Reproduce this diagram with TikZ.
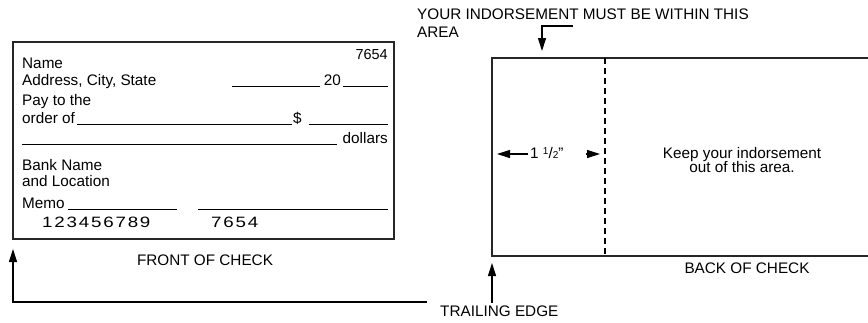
\documentclass[tikz,border=0pt]{standalone}
\usepackage{fontspec}
\setmainfont{Liberation Sans}
\usetikzlibrary{arrows.meta,positioning}

\begin{document}
\begin{tikzpicture}[x=1pt,y=-1pt,
  txt/.style={inner sep=0pt,font=\fontsize{15.3}{17}\selectfont},
  micr/.style={inner sep=0pt,font=\fontsize{15}{17}\selectfont\addfontfeature{FakeStretch=1.25,LetterSpace=12}},
  edge/.style={line width=1.7pt,draw=black!85},
  rule/.style={line width=0.9pt},
  pointer/.style={line width=1.1pt,-{Triangle[length=13pt,width=8pt]}}]
\useasboundingbox (0,0) rectangle (868,322);

% front of check
\draw[edge] (13,42) rectangle (394,239);
\node[txt,anchor=base east,font=\fontsize{14.5}{16}\selectfont] (chknum) at (388,59) {7654};
\node[txt,anchor=base west] (name) at (22,68) {Name};
\node[txt,anchor=base west] (addr) at (22,85) {Address, City, State};
\node[txt,anchor=base east] (year) at (341,85) {20};
\draw[rule] (232,86) -- (320,86);
\draw[rule] (343,86) -- (388,86);
\node[txt,anchor=base west] (pay) at (22,105) {Pay to the};
\node[txt,anchor=base west] (order) at (22,123) {order of};
\node[txt,anchor=base west] (dollar) at (293,123) {\$};
\draw[rule] (77,124) -- (292,124);
\draw[rule] (309,124) -- (388,124);
\node[txt,anchor=base east] (words) at (388,143) {dollars};
\draw[rule] (22,144) -- (337,144);
\node[txt,anchor=base west] (bank) at (22,170) {Bank Name};
\node[txt,anchor=base west] (loc) at (22,186) {and Location};
\node[txt,anchor=base west] (memo) at (22,208) {Memo};
\draw[rule] (68,209) -- (177,209);
\draw[rule] (198,209) -- (388,209);
\node[micr,anchor=base west] (routing) at (42,227) {123456789};
\node[micr,anchor=base west] (acct) at (211,227) {7654};
\node[txt,anchor=base] (front) at (205,265) {FRONT OF CHECK};

% back of check
\draw[edge] (868,58) -- (492,58) -- (492,256) -- (868,256);
\draw[line width=1.5pt,dash pattern=on 6pt off 4pt] (605,58) -- (605,256);
\node[txt,anchor=base west,align=left] (must) at (417,19) {YOUR INDORSEMENT MUST BE WITHIN THIS};
\node[txt,anchor=base west] (area) at (417,37) {AREA};
\node[txt,anchor=base west] (width) at (530,158)
  {1 \raisebox{3.5pt}{\fontsize{10}{10}\selectfont 1}/{\fontsize{10}{10}\selectfont 2}"};
\node[txt,align=center] (keep) at (742,160) {Keep your indorsement\\[-3pt]out of this area.};
\node[txt,anchor=base] (back) at (747,273) {BACK OF CHECK};
\node[txt,anchor=base west] (trail) at (440,316) {TRAILING EDGE};

% arrows
\coordinate (a1) at (573,26);
\coordinate (a2) at (542,51);
\draw[pointer] (a1) -| (a2);
\coordinate (w1) at (497,154);
\draw[pointer] (width.west |- w1) ++(-2,0) -- (w1);
\coordinate (w2) at (586,154);
\coordinate (w3) at (600,154);
\draw[pointer] (w2) -- (w3);
\coordinate (t1) at (427,302);
\coordinate (t2) at (13,249);
\draw[pointer] (t1) -| (t2);
\coordinate (t3) at (492,303);
\coordinate (t4) at (492,263);
\draw[pointer] (t3) -- (t4);
\end{tikzpicture}
\end{document}
